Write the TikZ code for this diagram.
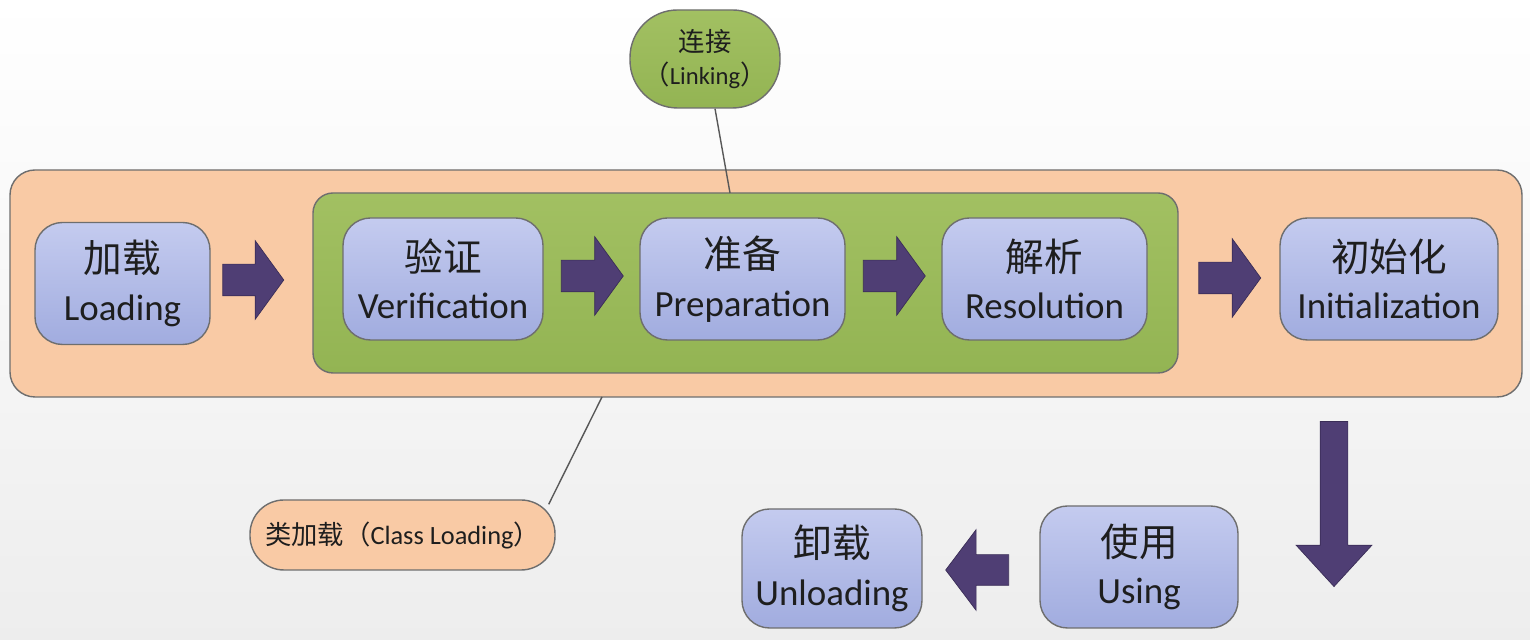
\documentclass[tikz,border=0pt]{standalone}
\usepackage{fontspec}
\setmainfont{Carlito}
\newfontfamily\cjk{Noto Sans CJK SC}
\usetikzlibrary{shapes.arrows,calc}
\definecolor{boxline}{HTML}{6E6E6E}
\definecolor{txt}{HTML}{1E1E1E}
\definecolor{phaseTop}{HTML}{C4CBEF}
\definecolor{phaseBot}{HTML}{A1ACDF}
\definecolor{orangeFill}{HTML}{F9CAA5}
\definecolor{greenTop}{HTML}{A2C062}
\definecolor{greenBot}{HTML}{93B453}
\definecolor{arrfill}{HTML}{4F3E74}
\definecolor{arrline}{HTML}{3A2D57}
\begin{document}
\begin{tikzpicture}[
  phase/.style={draw=boxline, line width=0.8pt, rounded corners=0.55cm,
    top color=phaseTop, bottom color=phaseBot, minimum height=2.44cm,
    align=center, text=txt, inner sep=0pt,
    font=\fontsize{21}{27}\selectfont},
  tag/.style={draw=boxline, line width=0.8pt, align=center, text=txt,
    inner sep=0pt, font=\fontsize{15}{19}\selectfont},
  blockarr/.style={single arrow, fill=arrfill, draw=arrline, line width=0.4pt,
    inner xsep=0pt, inner ysep=0.31cm, single arrow head extend=0.47cm,
    single arrow tip angle=108},
  tagline/.style={draw=boxline!80!black, line width=0.8pt}
]
  % background
  \shade[top color=white, bottom color=black!7] (0,0) rectangle (30.6,12.8);
  \useasboundingbox (0,0) rectangle (30.6,12.8);

  % class loading frame and linking frame
  \node[draw=boxline, line width=0.8pt, rounded corners=0.5cm, fill=orangeFill,
    minimum width=30.24cm, minimum height=4.54cm] (outer) at (15.32,7.13) {};
  \node[draw=boxline, line width=0.8pt, rounded corners=0.4cm,
    top color=greenTop, bottom color=greenBot,
    minimum width=17.3cm, minimum height=3.6cm] (green) at (14.91,7.14) {};

  % phases
  \node[phase, minimum width=3.5cm] (load) at (2.45,7.13) {{\cjk\fontsize{22}{27}\selectfont 加载}\\Loading};
  \node[phase, minimum width=4.0cm] (verify) at (8.86,7.22) {{\cjk\fontsize{22}{27}\selectfont 验证}\\Verification};
  \node[phase, minimum width=4.1cm] (prep) at (14.85,7.22) {{\cjk\fontsize{22}{27}\selectfont 准备}\\Preparation};
  \node[phase, minimum width=4.1cm] (resol) at (20.89,7.22) {{\cjk\fontsize{22}{27}\selectfont 解析}\\Resolution};
  \node[phase, minimum width=4.36cm] (init) at (27.78,7.22) {{\cjk\fontsize{22}{27}\selectfont 初始化}\\Initialization};
  \node[phase, minimum width=3.96cm] (using) at (22.78,1.46) {{\cjk\fontsize{22}{27}\selectfont 使用}\\Using};
  \node[phase, minimum width=3.6cm, minimum height=2.38cm] (unload) at (16.64,1.43) {{\cjk\fontsize{22}{27}\selectfont 卸载}\\Unloading};

  % block arrows
  \node[blockarr, minimum height=1.22cm] (a1) at (4.95,7.2) {};
  \node[blockarr, minimum height=1.24cm] (a2) at ($(verify.east)!0.5!(prep.west)+(-0.1,0.06)$) {};
  \node[blockarr, minimum height=1.24cm] (a3) at ($(prep.east)!0.5!(resol.west)+(-0.1,0.06)$) {};
  \node[blockarr, minimum height=1.24cm] (a4) at ($(green.east)!0.5!(init.west)+(-0.1,0.06)$) {};
  \node[blockarr, rotate=-90, minimum height=3.3cm, inner ysep=0.27cm,
    single arrow head extend=0.48cm, single arrow tip angle=85] (down) at (26.68,2.87) {};
  \node[blockarr, rotate=180, minimum height=1.26cm, inner ysep=0.3cm,
    single arrow head extend=0.5cm, single arrow tip angle=106] (back) at (19.66,1.4) {};

  % labels
  \node[tag, rounded corners=0.95cm, top color=greenTop, bottom color=greenBot,
    minimum width=3.0cm, minimum height=1.96cm] (link) at (14.1,11.62)
    {{\cjk 连接}\\{\cjk （}{\fontsize{14}{19}\selectfont Linking}{\cjk ）}};
  \node[tag, rounded corners=0.68cm, fill=orangeFill,
    minimum width=6.1cm, minimum height=1.4cm] (cls) at (8.05,2.1)
    {{\cjk 类加载（}Class Loading{\cjk ）}};

  \coordinate (linkfoot) at (14.6,8.94);
  \coordinate (clsfoot) at (12.04,4.86);
  \draw[tagline] ($(link.south)+(0.2,0)$) -- (linkfoot);
  \draw[tagline] ($(cls.north east)+(-0.14,-0.1)$) -- (clsfoot);
\end{tikzpicture}
\end{document}
